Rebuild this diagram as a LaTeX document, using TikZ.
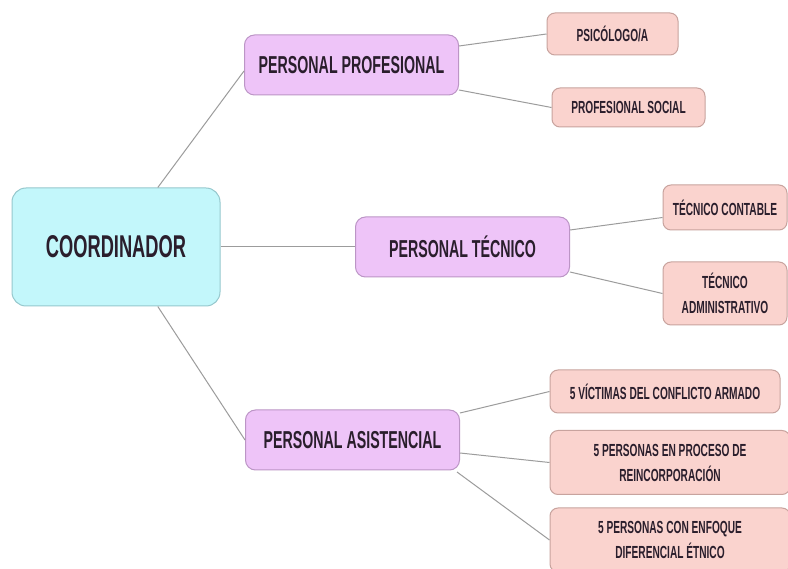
\documentclass[tikz,border=0pt]{standalone}
\usepackage{fontspec}
\setmainfont{Liberation Sans}[FakeStretch=0.58]
\usetikzlibrary{calc}
\definecolor{cyanfill}{HTML}{C3F7FB}
\definecolor{cyanline}{HTML}{96C8CD}
\definecolor{purplefill}{HTML}{EEC4F8}
\definecolor{purpleline}{HTML}{BC95C6}
\definecolor{pinkfill}{HTML}{FAD3CE}
\definecolor{pinkline}{HTML}{C8A39E}
\definecolor{textdark}{HTML}{2A1E2C}
\definecolor{linegray}{HTML}{9C9C9C}
\begin{document}
\begin{tikzpicture}[x=1pt,y=-1pt,
  box/.style={draw, rounded corners=10pt, line width=1pt, inner sep=0pt, align=center, text=textdark},
  rootbox/.style={box, fill=cyanfill, draw=cyanline, font=\bfseries\fontsize{31.5}{34}\selectfont, rounded corners=14pt},
  midbox/.style={box, fill=purplefill, draw=purpleline, font=\bfseries\fontsize{24.5}{28}\selectfont, minimum width=214pt, minimum height=60pt},
  leafbox/.style={box, fill=pinkfill, draw=pinkline, font=\bfseries\fontsize{17.5}{25}\selectfont, rounded corners=8pt},
  link/.style={draw=linegray, line width=1pt}]
\useasboundingbox (0,0) rectangle (788,569);
\fill[white] (0,0) rectangle (788,569);

% nodes
\node[rootbox, minimum width=208pt, minimum height=118pt] (coord) at (116,247) {COORDINADOR};

\node[midbox] (prof) at (351.5,65) {PERSONAL PROFESIONAL};
\node[midbox] (tec)  at (462.5,247) {PERSONAL TÉCNICO};
\node[midbox] (asis) at (352.5,440) {PERSONAL ASISTENCIAL};

\node[leafbox, minimum width=131pt, minimum height=42pt] (psic) at (612.5,34) {PSICÓLOGO/A};
\node[leafbox, minimum width=153pt, minimum height=39pt] (psoc) at (628.5,107.5) {PROFESIONAL SOCIAL};

\node[leafbox, minimum width=124pt, minimum height=45pt] (tcont) at (725,207.5) {TÉCNICO CONTABLE};
\node[leafbox, minimum width=124pt, minimum height=63pt] (tadm) at (725,293.5) {TÉCNICO\\ADMINISTRATIVO};

\node[leafbox, minimum width=230pt, minimum height=43pt] (vict) at (665,391.5) {5 VÍCTIMAS DEL CONFLICTO ARMADO};
\node[leafbox, minimum width=240pt, minimum height=64pt] (proc) at (670,462.5) {5 PERSONAS EN PROCESO DE\\REINCORPORACIÓN};
\node[leafbox, minimum width=240pt, minimum height=64pt] (enf) at (670,540) {5 PERSONAS CON ENFOQUE\\DIFERENCIAL ÉTNICO};

% connectors
\path[link] ($(coord.north west)!0.70!(coord.north east)$) -- ($(prof.west)+(0,6)$);
\path[link] (coord.east) -- (tec.west);
\path[link] ($(coord.south west)!0.70!(coord.south east)$) -- (asis.west);

\path[link] ($(prof.east)+(0,-19)$) -- (psic.west);
\path[link] ($(prof.east)+(0,25)$) -- (psoc.west);

\path[link] ($(tec.east)+(0,-17)$) -- ($(tcont.west)+(0,10)$);
\path[link] ($(tec.east)+(0,25)$) -- (tadm.west);

\path[link] ($(asis.east)+(0,-27)$) -- (vict.west);
\path[link] ($(asis.east)+(0,13)$) -- (proc.west);
\path[link] ($(asis.east)+(-3,32)$) -- (enf.west);
\end{tikzpicture}
\end{document}
